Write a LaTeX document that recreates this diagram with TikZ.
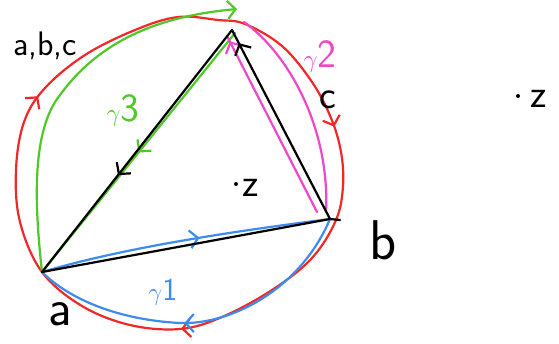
\documentclass[tikz,border=0pt]{standalone}
\usetikzlibrary{arrows.meta,decorations.markings,calc}
\definecolor{hred}{RGB}{240,40,40}
\definecolor{hgreen}{RGB}{80,200,40}
\definecolor{hpink}{RGB}{240,70,200}
\definecolor{hblue}{RGB}{60,140,240}
\tikzset{
  pen/.style={line width=2.2pt,line cap=round,line join=round},
  endbarb/.style={-{Straight Barb[length=8pt,width=18pt,line width=2.2pt]}},
  midarrow/.style={postaction={decorate,decoration={markings,
     mark=at position #1 with {\arrow{Straight Barb[length=8pt,width=18pt,line width=2.2pt]}}}}},
  lbl/.style={inner sep=0pt,font=\sffamily\fontsize{40}{40}\selectfont},
  dot/.style={circle,fill=black,inner sep=0pt,minimum size=4pt}
}
\begin{document}
\begin{tikzpicture}[x=1pt,y=-1pt]
\useasboundingbox[fill=white] (0,0) rectangle (559,343);
% vertices
\coordinate (a) at (42,272);
\coordinate (b) at (330,219);
\coordinate (c) at (232,30);
% red circle
\draw[pen,hred,midarrow=0.13,midarrow=0.5,midarrow=0.79] plot[smooth cycle,tension=0.6] coordinates{
 (42,272) (20,222) (16,170) (24,122) (45,88) (85,55) (135,30) (178,17) (218,20) (245,24)
 (282,46) (312,82) (331,118) (341,152) (343,186) (336,220) (312,258) (272,290)
 (222,317) (180,329) (130,325) (82,306)};
% green gamma3
\draw[pen,hgreen,endbarb] (a) .. controls (34,200) and (32,130) .. (60,95)
  .. controls (100,40) and (160,16) .. (237,9);
\draw[pen,hgreen,midarrow=0.5] ($(c)+(3,3)$) -- (a);
% pink gamma2
\draw[pen,hpink] (244,22) .. controls (290,55) and (330,130) .. (326,212);
\draw[pen,hpink,midarrow=0.97] (317,212) -- (227,36);
% blue gamma1
\draw[pen,hblue,midarrow=0.55] (a) .. controls (100,255) and (180,238) .. (b);
\draw[pen,hblue,midarrow=0.55] (b) .. controls (300,290) and (230,325) .. (180,323)
  .. controls (120,320) and (70,300) .. (a);
% black triangle
\draw[pen,black,midarrow=0.6] (c) -- (a);
\draw[pen,black] (a) -- (b);
\draw[pen,black,midarrow=0.93] (b) -- (c);
\draw[pen,black] (b) -- (340,220);
% labels
\node[lbl,font=\sffamily\fontsize{34}{34}\selectfont] (labc) at (45,46) {a,b,c};
\node[lbl,hgreen] (g3) at (123,110) {$\gamma$3};
\node[lbl,hpink] (g2) at (320,56) {$\gamma$2};
\node[lbl,hblue,font=\sffamily\fontsize{32}{32}\selectfont] (g1) at (163,292) {$\gamma$1};
\node[lbl] (lc) at (328,100) {c};
\node[lbl,font=\sffamily\fontsize{56}{56}\selectfont] (lb) at (383,240) {b};
\node[lbl,font=\sffamily\fontsize{52}{52}\selectfont] (la) at (60,314) {a};
\node[dot] (z1d) at (236,184) {};
\node[lbl] (z1) at (251,188) {z};
\node[dot] (z2d) at (518,96) {};
\node[lbl] (z2) at (539,99) {z};
\end{tikzpicture}
\end{document}
